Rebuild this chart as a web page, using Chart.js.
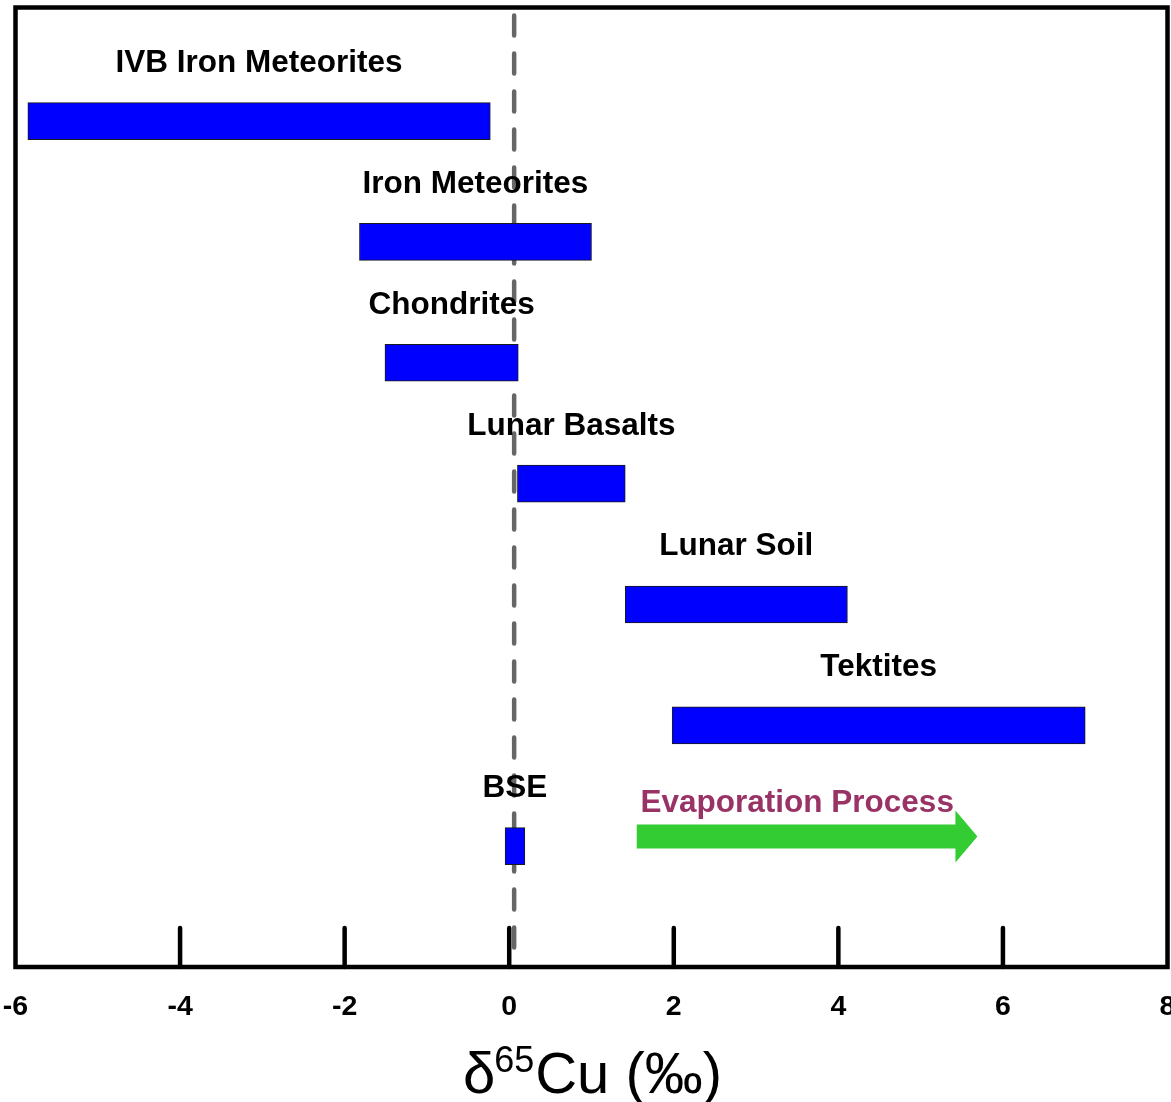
<!DOCTYPE html>
<html>
<head>
<meta charset="utf-8">
<script src="https://cdn.jsdelivr.net/npm/chart.js@4.4.1/dist/chart.umd.min.js"></script>
<style>
html,body{margin:0;padding:0;background:#fff;overflow:hidden;}
canvas{display:block;}
</style>
</head>
<body>
<canvas id="c" width="1180" height="1102"></canvas>
<script>
// ---- data ----
const categories = ["IVB Iron Meteorites","Iron Meteorites","Chondrites","Lunar Basalts","Lunar Soil","Tektites","BSE"];
const rowPos    = [7, 6, 5, 4, 3, 2, 1];
const rangeLow  = [-5.85, -1.82, -1.51, 0.10, 1.41, 1.98, -0.05];
const rangeHigh = [-0.23,  1.00,  0.11, 1.41, 4.11, 7.00,  0.19];
const xTicks = [-6, -4, -2, 0, 2, 4, 6, 8];
const refLineX = 0.06;
const arrowText = "Evaporation Process";
const arrowFrom = 1.55, arrowTo = 5.69, arrowRow = 1.08, arrowTextRow = 1.28;

const LABEL_FONT = 'bold 31.5px "Liberation Sans", Arial, sans-serif';

const overlay = {
  id: 'overlay',
  beforeDatasetsDraw(chart) {
    const {ctx, chartArea: a, scales: {x}} = chart;
    const px = x.getPixelForValue(refLineX);
    ctx.save();
    ctx.strokeStyle = '#666666';
    ctx.lineWidth = 4.5;
    ctx.lineCap = 'round';
    ctx.setLineDash([20, 18]);
    ctx.beginPath();
    ctx.moveTo(px, a.top + 8);
    ctx.lineTo(px, a.bottom - 6);
    ctx.stroke();
    ctx.restore();
  },
  afterDatasetsDraw(chart) {
    const {ctx, chartArea: a, scales: {x, y}} = chart;
    ctx.save();
    // category labels above bars
    ctx.font = LABEL_FONT;
    ctx.fillStyle = '#000';
    ctx.textAlign = 'center';
    ctx.textBaseline = 'alphabetic';
    categories.forEach((c, i) => {
      const cx = x.getPixelForValue((rangeLow[i] + rangeHigh[i]) / 2);
      const cy = y.getPixelForValue(rowPos[i]);
      ctx.fillText(c, cx, cy - 49);
    });
    // arrow
    const ay = y.getPixelForValue(arrowRow);
    const x0 = x.getPixelForValue(arrowFrom), x1 = x.getPixelForValue(arrowTo);
    const headLen = 22;
    ctx.fillStyle = '#33CC33';
    ctx.beginPath();
    ctx.moveTo(x0, ay - 12);
    ctx.lineTo(x1 - headLen, ay - 12);
    ctx.lineTo(x1 - headLen, ay - 26);
    ctx.lineTo(x1, ay);
    ctx.lineTo(x1 - headLen, ay + 26);
    ctx.lineTo(x1 - headLen, ay + 12);
    ctx.lineTo(x0, ay + 12);
    ctx.closePath();
    ctx.fill();
    // arrow text
    ctx.fillStyle = '#993366';
    ctx.font = LABEL_FONT;
    ctx.textAlign = 'center';
    ctx.fillText(arrowText, x.getPixelForValue(3.50), y.getPixelForValue(arrowTextRow));
    // frame
    ctx.strokeStyle = '#000';
    ctx.lineWidth = 4.5;
    ctx.lineJoin = 'miter';
    ctx.strokeRect(a.left, a.top, a.right - a.left, a.bottom - a.top);
    // inner tick marks
    ctx.lineCap = 'round';
    ctx.lineWidth = 4.5;
    xTicks.forEach(t => {
      if (t === x.min || t === x.max) return;
      const tx = x.getPixelForValue(t);
      ctx.beginPath();
      ctx.moveTo(tx, a.bottom - 39);
      ctx.lineTo(tx, a.bottom);
      ctx.stroke();
    });
    // axis title: δ65Cu (‰)
    const big = '58px "Liberation Sans", Arial, sans-serif';
    const small = '36px "Liberation Sans", Arial, sans-serif';
    ctx.textAlign = 'left';
    ctx.fillStyle = '#000';
    ctx.font = big; const w1 = ctx.measureText('δ').width;
    ctx.font = small; const w2 = ctx.measureText('65').width;
    ctx.font = big; const w3 = ctx.measureText('Cu (‰)').width;
    const total = w1 + w2 + w3;
    let tx = (a.left + a.right) / 2 + 1 - total / 2;
    const base = 1093;
    ctx.font = big; ctx.fillText('δ', tx, base); tx += w1 - 1;
    ctx.font = small; ctx.fillText('65', tx, base - 21); tx += w2 + 1;
    ctx.font = big; ctx.fillText('Cu (‰)', tx, base);
    ctx.restore();
  }
};

new Chart(document.getElementById('c'), {
  type: 'bar',
  data: {
    datasets: [{
      data: categories.map((c, i) => ({ y: rowPos[i], x: [rangeLow[i], rangeHigh[i]] })),
      backgroundColor: '#0000FF',
      borderColor: '#1a1a1a',
      borderWidth: 1,
      borderSkipped: false,
      barThickness: 37
    }]
  },
  options: {
    indexAxis: 'y',
    responsive: false,
    animation: false,
    layout: { padding: { left: 15.5, top: 7.5, right: 12.5, bottom: 0 } },
    plugins: { legend: { display: false }, tooltip: { enabled: false } },
    scales: {
      x: {
        type: 'linear', min: -6, max: 8,
        afterBuildTicks(scale) { scale.ticks = xTicks.map(v => ({ value: v })); },
        afterFit(scale) { scale.height = 135; scale.paddingLeft = 0; scale.paddingRight = 0; },
        grid: { display: false, drawTicks: true, tickLength: 23 },
        border: { display: false },
        ticks: {
          autoSkip: false, maxRotation: 0, padding: 0, color: '#000',
          font: { family: '"Liberation Sans", Arial, sans-serif', size: 28.5, weight: 'bold' }
        }
      },
      y: {
        type: 'linear', min: 0, max: 7.94, display: false, offset: false,
        grid: { offset: false }
      }
    }
  },
  plugins: [overlay]
});
</script>
</body>
</html>
